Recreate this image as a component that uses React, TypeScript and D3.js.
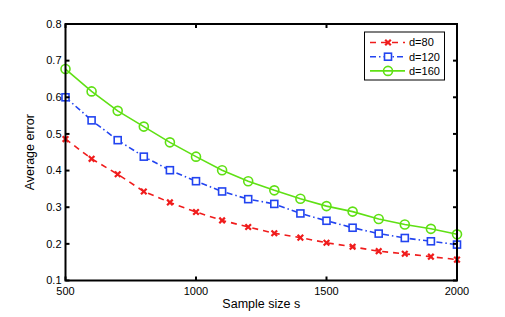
import * as d3 from "d3";
import {useEffect, useRef} from "react";

const sampleSizes = [500, 600, 700, 800, 900, 1000, 1100, 1200, 1300, 1400, 1500, 1600, 1700, 1800, 1900, 2000];
const errD80 = [0.486, 0.432, 0.39, 0.343, 0.313, 0.287, 0.264, 0.246, 0.229, 0.217, 0.203, 0.192, 0.18, 0.173, 0.165, 0.157];
const errD120 = [0.6, 0.537, 0.483, 0.438, 0.401, 0.371, 0.343, 0.322, 0.309, 0.283, 0.263, 0.244, 0.228, 0.216, 0.207, 0.198];
const errD160 = [0.677, 0.616, 0.563, 0.52, 0.477, 0.438, 0.401, 0.371, 0.346, 0.323, 0.303, 0.288, 0.268, 0.253, 0.241, 0.226];
const seriesNames = ["d=80", "d=120", "d=160"];
const xTicks = [500, 1000, 1500, 2000];
const yTicks = [0.1, 0.2, 0.3, 0.4, 0.5, 0.6, 0.7, 0.8];

const W = 505, H = 317;
const margin = {left: 65.5, right: 48, top: 24, bottom: 36.5};
const FONT = "'Liberation Sans', Arial, sans-serif";

const App = () => {
    const ref = useRef(null);

    useEffect(() => {
        const svg = d3.select(ref.current);
        svg.selectAll("*").remove();

        const x = d3.scaleLinear().domain([500, 2000]).range([margin.left, W - margin.right]);
        const y = d3.scaleLinear().domain([0.1, 0.8]).range([H - margin.bottom, margin.top]);

        const series = [
            {name: seriesNames[0], values: errD80, color: "#f01c1c", dash: "6,5", marker: "x"},
            {name: seriesNames[1], values: errD120, color: "#2244f0", dash: "6,3,1.5,3", marker: "square"},
            {name: seriesNames[2], values: errD160, color: "#5fe014", dash: null, marker: "circle"},
        ];

        const line = d3.line().x(d => x(d[0])).y(d => y(d[1]));

        const drawMarker = (g, kind, cx, cy, color) => {
            if (kind === "x") {
                const s = 2.8;
                g.append("path")
                    .attr("d", `M${cx - s},${cy - s}L${cx + s},${cy + s}M${cx - s},${cy + s}L${cx + s},${cy - s}`)
                    .attr("stroke", color).attr("stroke-width", 2.2).attr("fill", "none");
            } else if (kind === "square") {
                g.append("rect")
                    .attr("x", cx - 3.5).attr("y", cy - 3.5).attr("width", 7).attr("height", 7)
                    .attr("fill", "white").attr("stroke", color).attr("stroke-width", 1.6);
            } else {
                g.append("circle")
                    .attr("cx", cx).attr("cy", cy).attr("r", 4.5)
                    .attr("fill", "none").attr("stroke", color).attr("stroke-width", 1.6);
            }
        };

        // lines + markers
        series.forEach(s => {
            const pts = sampleSizes.map((v, i) => [v, s.values[i]]);
            svg.append("path")
                .attr("d", line(pts))
                .attr("fill", "none")
                .attr("stroke", s.color)
                .attr("stroke-width", 1.6)
                .attr("stroke-dasharray", s.dash);
            const g = svg.append("g");
            pts.forEach(p => drawMarker(g, s.marker, x(p[0]), y(p[1]), s.color));
        });

        // axes box
        const x0 = x.range()[0], x1 = x.range()[1], y0 = y.range()[0], y1 = y.range()[1];
        svg.append("rect")
            .attr("x", x0).attr("y", y1).attr("width", x1 - x0).attr("height", y0 - y1)
            .attr("fill", "none").attr("stroke", "black").attr("stroke-width", 2);

        const tickLen = 4;
        xTicks.forEach(t => {
            svg.append("line").attr("x1", x(t)).attr("x2", x(t)).attr("y1", y0).attr("y2", y0 - tickLen)
                .attr("stroke", "black").attr("stroke-width", 2);
            svg.append("line").attr("x1", x(t)).attr("x2", x(t)).attr("y1", y1).attr("y2", y1 + tickLen)
                .attr("stroke", "black").attr("stroke-width", 2);
            svg.append("text").attr("x", x(t)).attr("y", y0 + 14)
                .attr("text-anchor", "middle").attr("font-size", 11).attr("font-family", FONT)
                .text(t);
        });
        yTicks.forEach(t => {
            svg.append("line").attr("x1", x0).attr("x2", x0 + tickLen).attr("y1", y(t)).attr("y2", y(t))
                .attr("stroke", "black").attr("stroke-width", 2);
            svg.append("line").attr("x1", x1).attr("x2", x1 - tickLen).attr("y1", y(t)).attr("y2", y(t))
                .attr("stroke", "black").attr("stroke-width", 2);
            svg.append("text").attr("x", x0 - 4).attr("y", y(t)).attr("dy", "0.35em")
                .attr("text-anchor", "end").attr("font-size", 11).attr("font-family", FONT)
                .text(d3.format(".1f")(t));
        });

        svg.append("text").attr("x", (x0 + x1) / 2).attr("y", 308)
            .attr("text-anchor", "middle").attr("font-size", 12.5).attr("font-family", FONT)
            .text("Sample size s");
        svg.append("text")
            .attr("transform", `translate(34,${(y0 + y1) / 2}) rotate(-90)`)
            .attr("text-anchor", "middle").attr("font-size", 12.5).attr("font-family", FONT)
            .text("Average error");

        // legend
        const lg = svg.append("g");
        lg.append("rect").attr("x", 364.5).attr("y", 32).attr("width", 80).attr("height", 48)
            .attr("fill", "white").attr("stroke", "black").attr("stroke-width", 1);
        series.forEach((s, i) => {
            const ly = 42.5 + i * 14.2;
            lg.append("line").attr("x1", 370).attr("x2", 405).attr("y1", ly).attr("y2", ly)
                .attr("stroke", s.color).attr("stroke-width", 1.6).attr("stroke-dasharray", s.dash);
            drawMarker(lg, s.marker, 388, ly, s.color);
            lg.append("text").attr("x", 409).attr("y", ly).attr("dy", "0.35em")
                .attr("font-size", 11).attr("font-family", FONT).text(s.name);
        });
    }, []);

    return (
        <svg ref={ref} width={W} height={H}
             style={{display: "block", position: "absolute", left: 0, top: 0, background: "white"}}/>
    );
};

export default App;
